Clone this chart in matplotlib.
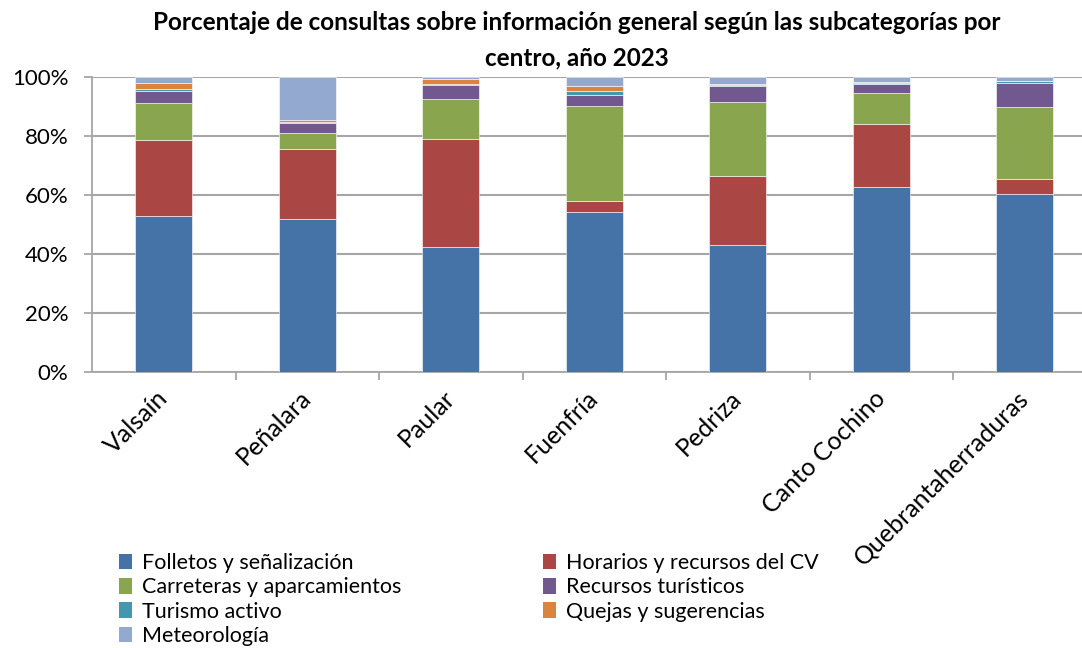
import matplotlib.pyplot as plt
from matplotlib.patches import Patch
from matplotlib.ticker import FixedLocator, PercentFormatter

plt.rcParams["font.family"] = ["Lato", "DejaVu Sans"]

CENTROS = ["Valsaín", "Peñalara", "Paular", "Fuenfría", "Pedriza",
           "Canto Cochino", "Quebrantaherraduras"]

SERIES = ["Folletos y señalización", "Horarios y recursos del CV",
          "Carreteras y aparcamientos", "Recursos turísticos",
          "Turismo activo", "Quejas y sugerencias", "Meteorología"]

folletos = [53.0, 51.9, 42.3, 54.1, 42.9, 62.6, 60.2]
horarios = [25.7, 23.7, 36.8, 4.0, 23.6, 21.4, 5.3]
carreteras = [12.5, 5.3, 13.3, 32.2, 25.1, 10.7, 24.2]
recursos = [4.2, 3.5, 4.9, 3.6, 5.2, 2.9, 8.2]
turismo = [0.7, 0.5, 0.4, 1.4, 0.5, 0.2, 0.6]
quejas = [1.9, 0.5, 1.5, 1.8, 0.3, 0.4, 0.1]
meteo = [2.1, 14.6, 0.8, 2.9, 2.4, 1.8, 1.4]

VALUES = [folletos, horarios, carreteras, recursos, turismo, quejas, meteo]
COLORS = ["#4572A7", "#AA4643", "#89A54E", "#71588F",
          "#4198AF", "#DB843D", "#93A9CF"]

GRID = "#a6a6a6"

fig = plt.figure(figsize=(10.82, 6.48), dpi=100)
ax = fig.add_axes([92 / 1082, 1 - 372 / 648, 1004.5 / 1082, 295 / 648])

x = list(range(len(CENTROS)))
bottom = [0.0] * len(CENTROS)
for vals, col in zip(VALUES, COLORS):
    ax.bar(x, vals, width=0.4, bottom=bottom, color=col,
           edgecolor="#ffffff", linewidth=0.4, zorder=3)
    bottom = [b + v for b, v in zip(bottom, vals)]

ax.set_xlim(-0.5, len(CENTROS) - 0.5)
ax.set_ylim(0, 100)
ax.yaxis.set_major_locator(FixedLocator([0, 20, 40, 60, 80, 100]))
ax.yaxis.set_major_formatter(PercentFormatter(decimals=0))
ax.grid(axis="y", color=GRID, linewidth=1.5, zorder=0)

for s in ["top", "right"]:
    ax.spines[s].set_visible(False)
for s in ["left", "bottom"]:
    ax.spines[s].set_color(GRID)
    ax.spines[s].set_linewidth(1.3)

ax.tick_params(axis="y", direction="out", length=6, color=GRID, width=1.3,
               labelsize=16, pad=11)
ax.set_xticks([i - 0.5 for i in range(1, len(CENTROS))], minor=False)
ax.set_xticklabels([])
ax.tick_params(axis="x", which="major", direction="out", length=6,
               color=GRID, width=1.3)
ax.set_xticks(x, minor=True)
ax.set_xticklabels(CENTROS, minor=True, rotation=45, ha="right",
                   va="center", rotation_mode="anchor", fontsize=18)
ax.tick_params(axis="x", which="minor", length=0, pad=16)

fig.text(577 / 1082, 1 - 22 / 648,
         "Porcentaje de consultas sobre información general según las subcategorías por",
         ha="center", va="center", fontsize=17.5, fontweight="bold")
fig.text(577 / 1082, 1 - 58 / 648, "centro, año 2023",
         ha="center", va="center", fontsize=17.5, fontweight="bold")

order = [0, 2, 4, 6, 1, 3, 5]
handles = [Patch(facecolor=COLORS[i], edgecolor="none") for i in order]
labels = [SERIES[i] for i in order]
fig.legend(handles, labels, ncol=2, loc="upper left",
           bbox_to_anchor=(119 / 1082, 1 - 553 / 648), frameon=False,
           fontsize=15.5, handlelength=0.6, handleheight=0.75,
           handletextpad=0.45, labelspacing=0.2, columnspacing=6.6,
           borderaxespad=0, borderpad=0)

fig.savefig("out.png", dpi=100)
